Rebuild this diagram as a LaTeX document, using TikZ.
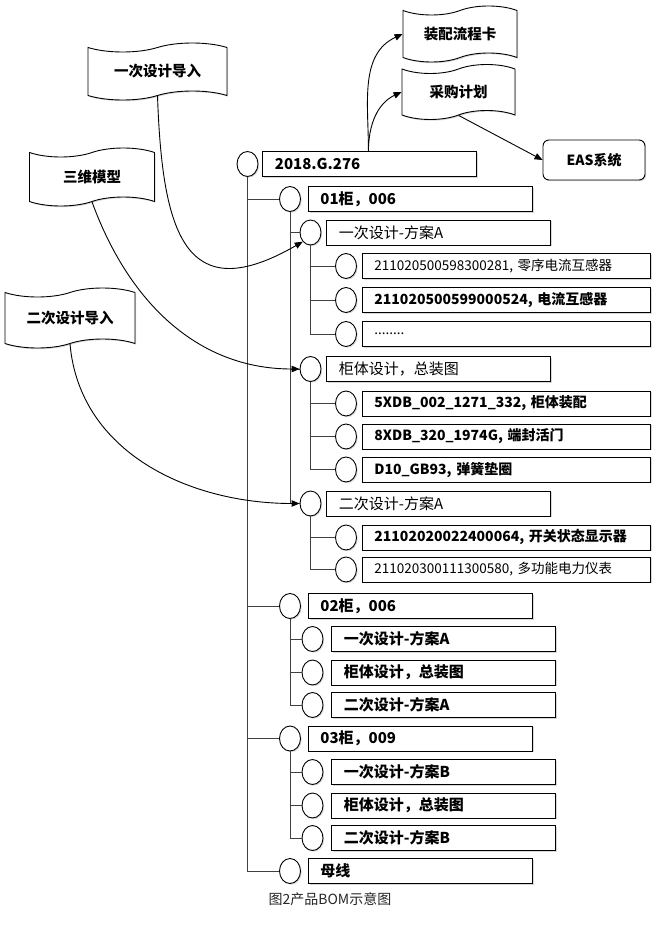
\documentclass[tikz,border=0pt]{standalone}
\usepackage{fontspec}
\setmainfont{Noto Sans CJK SC}
\usetikzlibrary{positioning, shapes.geometric, shapes.symbols, arrows.meta, shadows}

\tikzset{
  lift/.style={drop shadow={shadow xshift=1.2pt, shadow yshift=-1.2pt, opacity=0.3}},
  knot/.style={draw, ellipse, fill=white, minimum width=21pt, minimum height=25pt, inner sep=0pt, line width=0.9pt, lift},
  item/.style={draw, rectangle, fill=white, minimum height=25pt, inner xsep=12pt, inner ysep=0pt, text width=#1, align=left, line width=0.9pt, font=\fontsize{15}{17}\selectfont\bfseries, lift},
  item/.default=200pt,
  part/.style={item=264pt, font=\fontsize{14}{16}\selectfont\bfseries},
  thin/.style={font=\fontsize{15}{17}\selectfont},
  small/.style={font=\fontsize{13.5}{16}\selectfont},
  sheet/.style={draw, tape, fill=white, tape bend height=9pt, line width=0.9pt, font=\fontsize{14.5}{17}\selectfont\bfseries, lift},
  branch/.style={draw=black!75, line width=0.9pt},
  feed/.style={line width=0.9pt, -{Triangle[length=8pt, width=6.5pt]}},
}

\begin{document}
\begin{tikzpicture}[x=1pt, y=-1pt]
\useasboundingbox (0,0) rectangle (665,931);

% inputs
\node[sheet, minimum width=139pt, minimum height=57pt] (imp1) at (157.5,71.5) {一次设计导入};
\node[sheet, minimum width=125pt, minimum height=58pt] (model) at (92,177) {三维模型};
\node[sheet, minimum width=130pt, minimum height=60pt] (imp2) at (70,318) {二次设计导入};

% outputs
\node[sheet, minimum width=114pt, minimum height=56pt] (card) at (460,34) {装配流程卡};
\node[sheet, minimum width=113pt, minimum height=55pt] (plan) at (458.5,92) {采购计划};
\node[draw, rounded corners=6pt, fill=white, minimum width=102pt, minimum height=40pt, line width=0.9pt, font=\fontsize{14}{16}\selectfont\bfseries, lift] (eas) at (594,160) {EAS系统};

% product
\node[knot] (r) at (247.5,164) {};
\node[item=190pt, right=4pt of r] (rb) {2018.G.276};

% cabinets
\node[knot] (k1) at (290,199) {};
\node[item, right=7pt of k1] (k1b) {01柜，006};
\node[knot] (k2) at (290,606) {};
\node[item, right=7pt of k2] (k2b) {02柜，006};
\node[knot] (k3) at (290,738.5) {};
\node[item, right=7pt of k3] (k3b) {03柜，009};
\node[knot] (k4) at (290,871) {};
\node[item, right=7pt of k4] (k4b) {母线};

% cabinet 01
\node[knot] (k11) at (310.5,232.5) {};
\node[item, thin, right=5pt of k11] (k11b) {一次设计-方案A};
\node[knot] (k111) at (346,266) {};
\node[part, small, right=5pt of k111] (k111b) {211020500598300281, 零序电流互感器};
\node[knot] (k112) at (346,300) {};
\node[part, right=5pt of k112] (k112b) {211020500599000524, 电流互感器};
\node[knot] (k113) at (346,334) {};
\node[part, small, right=5pt of k113] (k113b) {........};

\node[knot] (k12) at (310.5,369) {};
\node[item, thin, right=5pt of k12] (k12b) {柜体设计，总装图};
\node[knot] (k121) at (346,403.5) {};
\node[part, right=5pt of k121] (k121b) {5XDB\_002\_1271\_332, 柜体装配};
\node[knot] (k122) at (346,436.5) {};
\node[part, right=5pt of k122] (k122b) {8XDB\_320\_1974G, 端封活门};
\node[knot] (k123) at (346,469.5) {};
\node[part, right=5pt of k123] (k123b) {D10\_GB93, 弹簧垫圈};

\node[knot] (k13) at (310.5,503.5) {};
\node[item, thin, right=5pt of k13] (k13b) {二次设计-方案A};
\node[knot] (k131) at (346,537.5) {};
\node[part, right=5pt of k131] (k131b) {21102020022400064, 开关状态显示器};
\node[knot] (k132) at (346,569.5) {};
\node[part, small, right=5pt of k132] (k132b) {211020300111300580, 多功能电力仪表};

% cabinets 02 and 03
\foreach \g/\y/\v in {2/639/A, 3/772/B} {
  \node[knot] (k\g1) at (312.5,\y) {};
  \node[item, right=8pt of k\g1] (k\g1b) {一次设计-方案\v};
  \node[knot] (k\g2) at (312.5,\y+33.5) {};
  \node[item, right=8pt of k\g2] (k\g2b) {柜体设计，总装图};
  \node[knot] (k\g3) at (312.5,\y+66) {};
  \node[item, right=8pt of k\g3] (k\g3b) {二次设计-方案\v};
  \foreach \i in {1,2,3}
    \draw[branch] (k\g.south) |- (k\g\i.west);
}

% tree
\foreach \k in {k1,k2,k3,k4}
  \draw[branch] (r.south) |- (\k.west);
\foreach \k in {k11,k12,k13}
  \draw[branch] (k1.south) |- (\k.west);
\foreach \k in {k111,k112,k113}
  \draw[branch] (k11.south) |- (\k.west);
\foreach \k in {k121,k122,k123}
  \draw[branch] (k12.south) |- (\k.west);
\foreach \k in {k131,k132}
  \draw[branch] (k13.south) |- (\k.west);

% flows
\draw[feed] ([xshift=106pt]rb.north west) to[out=90, in=205] (card.west);
\draw[feed] ([xshift=106pt]rb.north west) to[out=90, in=205] (plan.west);
\draw[feed] (plan.south) -- (eas.west);
\draw[feed] (imp1.south) to[out=-88, in=210, looseness=1.7] (k11.south west);
\draw[feed] (model.south) to[out=-70, in=180] (k12.west);
\draw[feed] (imp2.south) to[out=-85, in=180] (k13.west);

\node[font=\fontsize{14}{16}\selectfont, text=black!85] (cap) at (330,899) {图2产品BOM示意图};
\end{tikzpicture}
\end{document}
